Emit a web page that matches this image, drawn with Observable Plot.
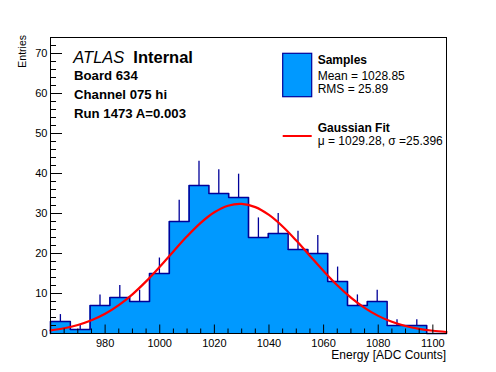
<!DOCTYPE html>
<html>
<head>
<meta charset="utf-8">
<script src="https://cdn.jsdelivr.net/npm/d3@7"></script>
<script src="https://cdn.jsdelivr.net/npm/@observablehq/plot@0.6"></script>
<style>
  html, body { margin: 0; padding: 0; background: #ffffff; }
  #chart svg { display: block; }
</style>
</head>
<body>
<div id="chart"></div>
<script>
// ---------- data ----------
const binEdges = [960, 967.25, 974.5, 981.75, 989, 996.25, 1003.5, 1010.75, 1018, 1025.25,
                  1032.5, 1039.75, 1047, 1054.25, 1061.5, 1068.75, 1076, 1083.25, 1090.5, 1097.75, 1105];
const counts   = [3, 1, 7, 9, 8, 15, 28, 37, 35, 34, 24, 25, 21, 20, 13, 7, 8, 2, 2, 0];
const errors   = [1.73, 1, 2.65, 3, 2.83, 3.87, 5.29, 6.08, 5.92, 5.83, 4.9, 5, 4.58, 4.47, 3.61, 2.65, 2.83, 1.41, 1.41, 0];

const fitX = [960, 965, 970, 975, 980, 985, 990, 995, 1000, 1005, 1010, 1015, 1020, 1025, 1030,
              1035, 1040, 1045, 1050, 1055, 1060, 1065, 1070, 1075, 1080, 1085, 1090, 1095, 1100, 1105];
const fitY = [0.79, 1.31, 2.13, 3.30, 4.93, 7.09, 9.80, 13.03, 16.67, 20.52, 24.29, 27.66, 30.31, 31.95, 32.39,
              31.59, 29.64, 26.76, 23.23, 19.40, 15.60, 12.05, 8.97, 6.41, 4.41, 2.92, 1.86, 1.14, 0.68, 0.38];

const xDomain = [960, 1105];
const yDomain = [0, 74];
const xMajorTicks = [980, 1000, 1020, 1040, 1060, 1080, 1100];
const xMinorTicks = [965, 970, 975, 985, 990, 995, 1005, 1010, 1015, 1025, 1030, 1035, 1045, 1050, 1055,
                     1065, 1070, 1075, 1085, 1090, 1095, 1105];
const yMajorTicks = [0, 10, 20, 30, 40, 50, 60, 70];
const yMinorTicks = [2, 4, 6, 8, 12, 14, 16, 18, 22, 24, 26, 28, 32, 34, 36, 38, 42, 44, 46, 48,
                     52, 54, 56, 58, 62, 64, 66, 68, 72];

const xTitle = "Energy [ADC Counts]";
const yTitle = "Entries";
const atlasItalic = "ATLAS";
const atlasBold = "Internal";
const infoLines = ["Board 634", "Channel 075 hi", "Run 1473 A=0.003"];
const legendSamples = ["Samples", "Mean = 1028.85", "RMS = 25.89"];
const legendFit = ["Gaussian Fit", "μ = 1029.28, σ =25.396"];

// ---------- derived tables ----------
const FONT = "'Liberation Sans', Arial, Helvetica, sans-serif";
const FILL = "#0099ff";
const LINE = "#000099";

const bins = counts.map((c, i) => ({
  x1: binEdges[i], x2: binEdges[i + 1], center: (binEdges[i] + binEdges[i + 1]) / 2,
  count: c, err: errors[i]
}));
const outline = [{x: binEdges[0], y: 0}]
  .concat(counts.map((c, i) => ({x: binEdges[i], y: c})))
  .concat([{x: binEdges[binEdges.length - 1], y: 0}]);
const fit = fitX.map((x, i) => ({x, y: fitY[i]}));

const plot = Plot.plot({
  width: 496,
  height: 372,
  marginLeft: 50,
  marginRight: 50,
  marginTop: 37,
  marginBottom: 39,
  style: {fontFamily: FONT, background: "#ffffff", color: "#000000"},
  x: {domain: xDomain, axis: null},
  y: {domain: yDomain, axis: null},
  marks: [
    Plot.areaY(outline, {x: "x", y: "y", curve: "step-after", fill: FILL}),
    Plot.ruleX(bins.filter(d => d.count > 0), {x: "center", y1: "count", y2: d => d.count + d.err, stroke: LINE, strokeWidth: 1.3}),
    Plot.line(outline, {x: "x", y: "y", curve: "step-after", stroke: LINE, strokeWidth: 1.6}),
    Plot.line(fit, {x: "x", y: "y", curve: "catmull-rom", stroke: "#ff0000", strokeWidth: 2.2}),
    // inward ticks
    Plot.ruleX(xMajorTicks, {x: d => d, y1: 0, y2: 0, insetTop: -8.5, stroke: "#000", strokeWidth: 1}),
    Plot.ruleX(xMinorTicks, {x: d => d, y1: 0, y2: 0, insetTop: -4.5, stroke: "#000", strokeWidth: 1}),
    Plot.ruleY(yMajorTicks, {y: d => d, x1: xDomain[0], x2: xDomain[0], insetRight: -12, stroke: "#000", strokeWidth: 1}),
    Plot.ruleY(yMinorTicks, {y: d => d, x1: xDomain[0], x2: xDomain[0], insetRight: -6, stroke: "#000", strokeWidth: 1}),
    Plot.axisX({ticks: xMajorTicks, tickSize: 0, tickPadding: 5.5, label: null, fontSize: 11, tickFormat: d => String(d)}),
    Plot.axisY({ticks: yMajorTicks, tickSize: 0, tickPadding: 3, label: null, fontSize: 11, tickFormat: d => String(d)}),
    Plot.frame({stroke: "#000", strokeWidth: 1})
  ]
});

document.getElementById("chart").appendChild(plot);

// ---------- annotations, legend and axis titles ----------
const svg = d3.select(plot);
const g = svg.append("g").attr("font-family", FONT).attr("fill", "#000").attr("text-anchor", "start");

g.append("text").attr("x", 446).attr("y", 359).attr("text-anchor", "end")
  .attr("font-size", 12).text(xTitle);
g.append("text").attr("transform", "translate(25.7,35) rotate(-90)").attr("text-anchor", "end")
  .attr("font-size", 10.5).text(yTitle);

g.append("text").attr("x", 73.3).attr("y", 62.7).attr("font-size", 16.5)
  .attr("font-style", "italic").text(atlasItalic);
g.append("text").attr("x", 133.3).attr("y", 62.7).attr("font-size", 16.5)
  .attr("font-weight", "bold").text(atlasBold);
const infoBase = [80, 99.3, 118.3];
infoLines.forEach((t, i) => {
  g.append("text").attr("x", 74).attr("y", infoBase[i]).attr("font-size", 13.2)
    .attr("font-weight", "bold").text(t);
});

// legend
g.append("rect").attr("x", 282.7).attr("y", 53.3).attr("width", 29).attr("height", 43.4)
  .attr("fill", FILL).attr("stroke", LINE).attr("stroke-width", 1.2);
g.append("line").attr("x1", 282.7).attr("x2", 311.7).attr("y1", 136).attr("y2", 136)
  .attr("stroke", "#ff0000").attr("stroke-width", 2);
const sampBase = [64, 80.3, 92.8];
legendSamples.forEach((t, i) => {
  g.append("text").attr("x", 317.7).attr("y", sampBase[i]).attr("font-size", 12)
    .attr("font-weight", i === 0 ? "bold" : "normal").text(t);
});
const fitBase = [132.3, 145.3];
legendFit.forEach((t, i) => {
  g.append("text").attr("x", 317.7).attr("y", fitBase[i]).attr("font-size", 12)
    .attr("font-weight", i === 0 ? "bold" : "normal").text(t);
});
</script>
</body>
</html>
